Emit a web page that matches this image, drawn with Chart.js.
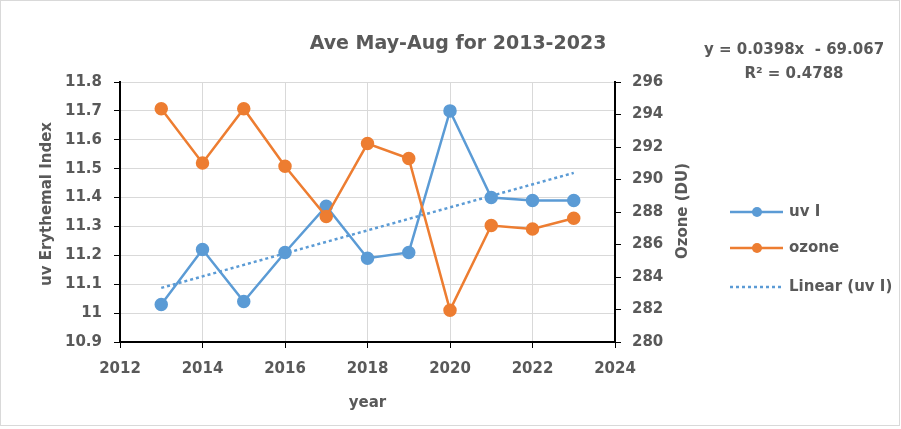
<!DOCTYPE html>
<html><head><meta charset="utf-8">
<script src="https://cdn.jsdelivr.net/npm/chart.js@4"></script>
<style>html,body{margin:0;padding:0;background:#fff}#wrap{width:901px;height:429px;position:relative}</style>
</head><body><div id="wrap"><canvas id="c" width="901" height="429"></canvas></div>
<script>
const years = [2013, 2014, 2015, 2016, 2017, 2018, 2019, 2020, 2021, 2022, 2023];
const uvI = [11.03, 11.22, 11.04, 11.21, 11.37, 11.19, 11.21, 11.70, 11.40, 11.39, 11.39];
const ozone = [294.36, 291.02, 294.36, 290.81, 287.72, 292.21, 291.29, 281.96, 287.17, 286.96, 287.62];
const titleText = 'Ave May-Aug for 2013-2023';
const eqLine1 = 'y = 0.0398x  - 69.067';
const eqLine2 = 'R² = 0.4788';
const seriesNames = ['uv I', 'ozone', 'Linear (uv I)'];

const BLUE = '#5B9BD5', ORANGE = '#ED7D31', TXT = '#595959';
const FONT = '"DejaVu Sans", sans-serif';

// least squares trend of uvI
const n = years.length;
const mx = years.reduce((a,b)=>a+b,0)/n, my = uvI.reduce((a,b)=>a+b,0)/n;
let sxy=0, sxx=0;
for (let i=0;i<n;i++){ sxy += (years[i]-mx)*(uvI[i]-my); sxx += (years[i]-mx)**2; }
const slope = sxy/sxx, icpt = my - slope*mx;
const trend = [years[0], years[n-1]].map(x => ({x, y: slope*x + icpt}));

const overlay = {
  id: 'overlay',
  afterDraw(chart) {
    const ctx = chart.ctx, a = chart.chartArea;
    ctx.save();
    ctx.strokeStyle = '#d9d9d9'; ctx.lineWidth = 1;
    ctx.strokeRect(0.5, 0.5, 899, 425);
    ctx.fillStyle = TXT;
    ctx.textAlign = 'center'; ctx.textBaseline = 'middle';
    ctx.font = 'bold 19px ' + FONT;
    ctx.fillText(titleText, 458, 44);
    ctx.font = 'bold 15px ' + FONT;
    ctx.fillText('year', (a.left + a.right)/2, 403);
    ctx.save(); ctx.translate(47, 204); ctx.rotate(-Math.PI/2);
    ctx.fillText('uv Erythemal Index', 0, 0); ctx.restore();
    ctx.save(); ctx.translate(683, 211); ctx.rotate(-Math.PI/2);
    ctx.fillText('Ozone (DU)', 0, 0); ctx.restore();
    ctx.font = 'bold 15px ' + FONT;
    ctx.fillText(eqLine1, 794, 50);
    ctx.fillText(eqLine2, 794, 74);
    // legend
    ctx.textAlign = 'left';
    ctx.font = 'bold 15px ' + FONT;
    const ly = [212, 248, 287];
    [[BLUE, false, true], [ORANGE, false, true], [BLUE, true, false]].forEach((s, i) => {
      ctx.strokeStyle = s[0]; ctx.lineWidth = 2.5;
      ctx.setLineDash(s[1] ? [3,3] : []);
      ctx.beginPath(); ctx.moveTo(730, ly[i]); ctx.lineTo(783, ly[i]); ctx.stroke();
      ctx.setLineDash([]);
      if (s[2]) { ctx.fillStyle = s[0]; ctx.beginPath(); ctx.arc(757, ly[i], 5, 0, Math.PI*2); ctx.fill(); }
      ctx.fillStyle = TXT;
      ctx.fillText(seriesNames[i], 789, ly[i]);
    });
    ctx.restore();
  }
};

new Chart(document.getElementById('c'), {
  type: 'line',
  data: {
    datasets: [
      { label: seriesNames[1], data: years.map((x,i)=>({x, y: ozone[i]})), yAxisID: 'y2',
        borderColor: ORANGE, backgroundColor: ORANGE, borderWidth: 2.5, pointRadius: 5.5, pointHoverRadius: 5.5, order: 0 },
      { label: seriesNames[2], data: trend, yAxisID: 'y',
        borderColor: BLUE, borderWidth: 2.5, borderDash: [3,3], pointRadius: 0, order: 1 },
      { label: seriesNames[0], data: years.map((x,i)=>({x, y: uvI[i]})), yAxisID: 'y',
        borderColor: BLUE, backgroundColor: BLUE, borderWidth: 2.5, pointRadius: 5.5, pointHoverRadius: 5.5, order: 2 }
    ]
  },
  options: {
    responsive: false, animation: false, devicePixelRatio: 1,
    layout: { padding: { left: 0, right: 206, top: 82, bottom: 0 } },
    plugins: { legend: { display: false }, title: { display: false }, tooltip: { enabled: false } },
    scales: {
      x: { type: 'linear', min: 2012, max: 2024,
        ticks: { stepSize: 2, color: TXT, font: { family: FONT, size: 15, weight: 'bold' }, padding: 12, callback: v => String(v) },
        grid: { color: '#d9d9d9', tickColor: '#000', tickLength: 6, lineWidth: 1 },
        border: { color: '#000', width: 2 },
        afterFit: s => { s.height = 87; } },
      y: { position: 'left', min: 10.9, max: 11.8,
        ticks: { stepSize: 0.1, color: TXT, font: { family: FONT, size: 15, weight: 'bold' }, padding: 12, callback: v => String(parseFloat(v.toFixed(2))) },
        grid: { color: '#d9d9d9', tickColor: '#000', tickLength: 6, lineWidth: 1 },
        border: { color: '#000', width: 2 },
        afterFit: s => { s.width = 120; } },
      y2: { position: 'right', min: 280, max: 296,
        ticks: { stepSize: 2, color: TXT, font: { family: FONT, size: 15, weight: 'bold' }, padding: 11, callback: v => String(v) },
        grid: { drawOnChartArea: false, color: '#000', tickColor: '#000', tickLength: 6 },
        border: { color: '#000', width: 2 },
        afterFit: s => { s.width = 80; } }
    }
  },
  plugins: [overlay]
});
</script></body></html>
